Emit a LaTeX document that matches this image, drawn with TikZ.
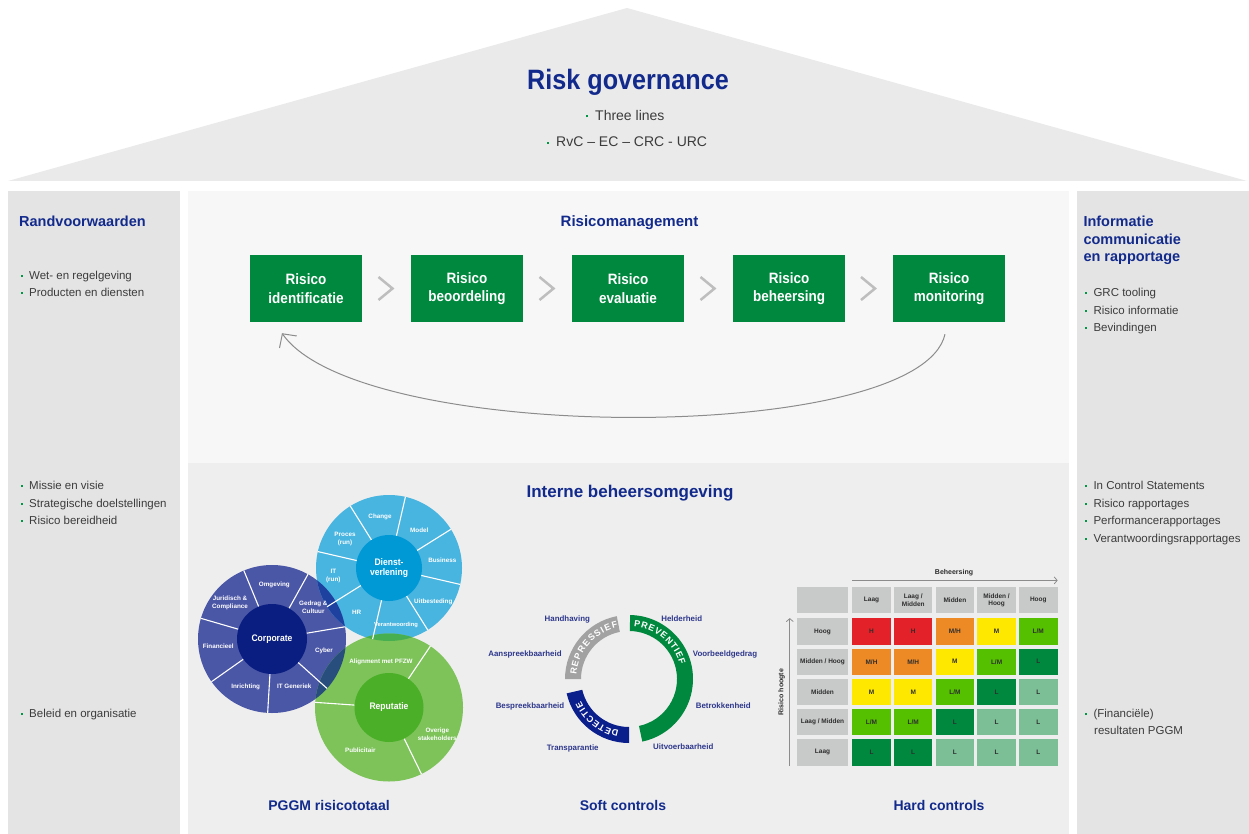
\documentclass[tikz,border=0pt]{standalone}
\usepackage{fontspec}
\setmainfont{Liberation Sans}
\newfontfamily\condfont[FakeStretch=0.9]{Liberation Sans}
\usetikzlibrary{arrows.meta,calc}
\definecolor{titleblue}{RGB}{18,42,140}
\definecolor{boxgreen}{RGB}{0,137,62}
\definecolor{bulgreen}{RGB}{0,150,70}
\definecolor{txtgrey}{RGB}{60,60,60}
\definecolor{roofgrey}{RGB}{234,234,234}
\definecolor{colgrey}{RGB}{228,228,228}
\definecolor{toppanel}{RGB}{247,247,247}
\definecolor{botpanel}{RGB}{238,238,238}
\definecolor{chevgrey}{RGB}{190,190,190}
\definecolor{arrowgrey}{RGB}{140,140,140}
\definecolor{corpout}{RGB}{74,86,166}
\definecolor{corpin}{RGB}{10,30,130}
\definecolor{dienout}{RGB}{72,180,224}
\definecolor{dienin}{RGB}{0,153,214}
\definecolor{repout}{RGB}{125,195,90}
\definecolor{repin}{RGB}{75,175,40}
\definecolor{cdov}{RGB}{30,65,160}
\definecolor{crov}{RGB}{40,78,125}
\definecolor{drov}{RGB}{72,175,80}
\definecolor{softblue}{RGB}{45,55,140}
\definecolor{softgrey}{RGB}{162,162,162}
\definecolor{softnavy}{RGB}{10,30,140}
\definecolor{cellgrey}{RGB}{200,201,201}
\definecolor{cred}{RGB}{227,33,40}
\definecolor{corng}{RGB}{238,138,38}
\definecolor{cyel}{RGB}{255,232,0}
\definecolor{clg}{RGB}{85,192,0}
\definecolor{cdg}{RGB}{0,137,62}
\definecolor{cpg}{RGB}{124,190,150}
\definecolor{celltext}{RGB}{45,45,45}
\newcommand{\gbul}{\textcolor{bulgreen}{\rule[2pt]{2pt}{2pt}}\hspace{6.3pt}}
\newcommand{\gbulr}{\textcolor{bulgreen}{\rule[3pt]{2pt}{2pt}}\hspace{7pt}}
\def\tcred{H}
\def\tcorng{M/H}
\def\tcyel{M}
\def\tclg{L/M}
\def\tcdg{L}
\def\tcpg{L}
\begin{document}
\begin{tikzpicture}[x=1pt,y=1pt,
  roofbul/.style={font=\fontsize{14}{14}\selectfont, text=txtgrey, inner sep=0pt, anchor=west, text height=10pt, text depth=0pt},
  bigtitle/.style={font={\condfont\fontsize{28}{30}\selectfont\bfseries}, text=titleblue, inner sep=0pt, text height=20pt, text depth=0pt},
  secttitle/.style={font={\fontsize{15}{15}\selectfont\bfseries}, text=titleblue, inner sep=0pt, text height=10.7pt, text depth=0pt},
  coltitle/.style={font={\fontsize{14.5}{14.5}\selectfont\bfseries}, text=titleblue, inner sep=0pt, anchor=west, text height=10.4pt, text depth=0pt},
  coltext/.style={font={\fontsize{11.5}{11.5}\selectfont}, text=txtgrey, inner sep=0pt, anchor=west, text height=8.2pt, text depth=0pt},
  bottitle/.style={font={\fontsize{14}{14}\selectfont\bfseries}, text=titleblue, inner sep=0pt, text height=10pt, text depth=0pt},
  stepbox/.style={fill=boxgreen, minimum width=112pt, minimum height=67pt, inner sep=0pt, text=white, font={\condfont\fontsize{15}{18.5}\selectfont\bfseries}, align=center},
  chev/.style={draw=chevgrey, line width=2.5pt},
  flowarrow/.style={draw=arrowgrey, line width=1pt, -{Straight Barb[length=10pt,width=21pt]}},
  seglbl/.style={text=white, font={\fontsize{6.3}{8.3}\selectfont\bfseries}, inner sep=0pt, align=center},
  centerlbl/.style={text=white, font={\condfont\fontsize{9.5}{10}\selectfont\bfseries}, inner sep=0pt, align=center},
  segline/.style={draw=white, line width=1.1pt},
  softlbl/.style={text=softblue, font={\fontsize{7.9}{7.9}\selectfont\bfseries}, inner sep=0pt, text height=5.7pt, text depth=0pt},
  arcletter/.style={text=white, font={\fontsize{9}{9}\selectfont\bfseries}, inner sep=0pt, text height=6.4pt, text depth=0pt},
  cell/.style={minimum width=38.4pt, minimum height=26.5pt, inner sep=0pt, font={\fontsize{6.5}{7.5}\selectfont\bfseries}, text=celltext, align=center},
  hdrcell/.style={cell, fill=cellgrey, minimum height=26pt},
  rowcell/.style={cell, fill=cellgrey, minimum width=50.4pt},
  axisarrow/.style={draw=arrowgrey, line width=0.8pt, -{Straight Barb[length=3pt,width=7pt]}},
  axislbl/.style={text=celltext, font={\fontsize{7}{7}\selectfont\bfseries}, inner sep=0pt}
]
\useasboundingbox (0,0) rectangle (1249,-834);
\fill[white] (0,0) rectangle (1249,-834);
% roof
\fill[roofgrey] (8,-181) -- (627,-8) -- (1247,-181) -- cycle;
\node[bigtitle] (rg) at (628,-79.5) {Risk governance};
\node[roofbul] (tl) at (586,-115.3) {\gbulr Three lines};
\node[roofbul] (rvc) at (547,-142) {\gbulr RvC -- EC -- CRC - URC};
% panels
\fill[colgrey] (8,-191) rectangle (180,-834);
\fill[colgrey] (1077,-191) rectangle (1249,-834);
\fill[toppanel] (188,-191) rectangle (1069,-462.5);
\fill[botpanel] (188,-462.5) rectangle (1069,-834);
% left column
\node[coltitle] (lt) at (19,-221) {Randvoorwaarden};
\node[coltext] (l1) at (20.7,-275) {\gbul Wet- en regelgeving};
\node[coltext] (l2) at (20.7,-292) {\gbul Producten en diensten};
\node[coltext] (l3) at (20.7,-485) {\gbul Missie en visie};
\node[coltext] (l4) at (20.7,-503) {\gbul Strategische doelstellingen};
\node[coltext] (l5) at (20.7,-520) {\gbul Risico bereidheid};
\node[coltext] (l6) at (20.7,-713) {\gbul Beleid en organisatie};
% right column
\node[coltitle] (rt1) at (1083.3,-221) {Informatie};
\node[coltitle] (rt2) at (1083.3,-239) {communicatie};
\node[coltitle] (rt3) at (1083.3,-256) {en rapportage};
\node[coltext] (r1) at (1085,-292) {\gbul GRC tooling};
\node[coltext] (r2) at (1085,-310) {\gbul Risico informatie};
\node[coltext] (r3) at (1085,-327) {\gbul Bevindingen};
\node[coltext] (r4) at (1085,-485) {\gbul In Control Statements};
\node[coltext] (r5) at (1085,-503) {\gbul Risico rapportages};
\node[coltext] (r6) at (1085,-520) {\gbul Performancerapportages};
\node[coltext] (r7) at (1085,-538) {\gbul Verantwoordingsrapportages};
\node[coltext] (r8) at (1085,-713) {\gbul (Financiële)};
\node[coltext] (r9) at (1094,-730.7) {resultaten PGGM};
% risicomanagement
\node[secttitle] (rmt) at (629.5,-221) {Risicomanagement};
\node[stepbox] (m1) at (306,-288.5) {Risico\\identificatie};
\node[stepbox] (m2) at (467,-288.5) {Risico\\beoordeling};
\node[stepbox] (m3) at (628,-288.5) {Risico\\evaluatie};
\node[stepbox] (m4) at (789,-288.5) {Risico\\beheersing};
\node[stepbox] (m5) at (949,-288.5) {Risico\\monitoring};
\foreach \a/\b in {m1/m2,m2/m3,m3/m4,m4/m5}
  \draw[chev] ($(\a.east)!0.5!(\b.west)+(-8,11.5)$) -- ++(14,-11.5) -- ++(-14,-11.5);
\draw[flowarrow] ([xshift=-4pt,yshift=-12pt]m5.south) .. controls +(-25,-111) and +(78,-112) .. ([xshift=-24pt,yshift=-11pt]m1.south);
% interne beheersomgeving
\node[secttitle, font={\fontsize{17}{17}\selectfont\bfseries}, text height=12.2pt] (ibt) at (630,-491) {Interne beheersomgeving};
% circles
\coordinate (corp) at (272,-639);
\coordinate (dien) at (389,-568);
\coordinate (rep) at (389,-707.5);
\fill[corpout] (corp) circle (74);
\fill[dienout] (dien) circle (73);
\fill[repout] (rep) circle (74);
\begin{scope}
  \clip (corp) circle (74);
  \fill[cdov] (dien) circle (73);
  \fill[crov] (rep) circle (74);
\end{scope}
\begin{scope}
  \clip (dien) circle (73);
  \fill[drov] (rep) circle (74);
\end{scope}
\foreach \a in {9.5,60.93,112.36,163.79,215.21,266.64,318.07}
  \draw[segline] ($(corp)+(\a:35)$) -- ($(corp)+(\a:74)$);
\foreach \a in {-13,32,77,122,167,212,257,302}
  \draw[segline] ($(dien)+(\a:33)$) -- ($(dien)+(\a:73)$);
\foreach \a in {56,176,296}
  \draw[segline] ($(rep)+(\a:34.5)$) -- ($(rep)+(\a:74)$);
\node[circle, fill=corpin, minimum size=70pt, inner sep=0pt, centerlbl] (corpc) at (corp) {Corporate};
\node[circle, fill=dienin, minimum size=66pt, inner sep=0pt, centerlbl] (dienc) at (dien) {Dienst-\\verlening};
\node[circle, fill=repin, minimum size=69pt, inner sep=0pt, centerlbl] (repc) at (rep) {Reputatie};
% corporate labels
\node[seglbl] (co1) at (274.3,-584.7) {Omgeving};
\node[seglbl] (co2) at (313.3,-607.3) {Gedrag \&\\Cultuur};
\node[seglbl] (co3) at (230,-602.7) {Juridisch \&\\Compliance};
\node[seglbl] (co4) at (218.3,-646.7) {Financieel};
\node[seglbl] (co5) at (245.7,-686.7) {Inrichting};
\node[seglbl] (co6) at (294.3,-686.7) {IT Generiek};
\node[seglbl] (co7) at (324,-650.7) {Cyber};
% dienstverlening labels
\node[seglbl] (di1) at (380,-517) {Change};
\node[seglbl] (di2) at (419.3,-530.3) {Model};
\node[seglbl] (di3) at (442.3,-560.3) {Business};
\node[seglbl] (di4) at (433.3,-602) {Uitbesteding};
\node[seglbl, font={\fontsize{5.8}{7}\selectfont\bfseries}] (di5) at (396,-624.7) {Verantwoording};
\node[seglbl] (di6) at (356.7,-612) {HR};
\node[seglbl] (di7) at (333.3,-576) {IT\\(run)};
\node[seglbl] (di8) at (345,-538.7) {Proces\\(run)};
% reputatie labels
\node[seglbl] (re1) at (381,-662) {Alignment met PFZW};
\node[seglbl] (re2) at (437.3,-734) {Overige\\stakeholders};
\node[seglbl] (re3) at (360.3,-750.7) {Publicitair};
% soft controls ring
\coordinate (sc) at (629,-679);
\fill[boxgreen] ($(sc)+(89:64)$) arc[start angle=89,end angle=-78,radius=64] -- ($(sc)+(-78:48)$) arc[start angle=-78,end angle=89,radius=48] -- cycle;
\fill[softgrey] ($(sc)+(101:64)$) arc[start angle=101,end angle=180,radius=64] -- ($(sc)+(180:48)$) arc[start angle=180,end angle=101,radius=48] -- cycle;
\fill[softnavy] ($(sc)+(193:64)$) arc[start angle=193,end angle=270,radius=64] -- ($(sc)+(270:48)$) arc[start angle=270,end angle=193,radius=48] -- cycle;
\foreach \ch/\ang [count=\i from 0] in {P/81.44,R/73.79,E/66.14,V/58.76,E/51.39,N/43.73,T/36.35,I/31.15,E/25.67,F/18.56}
  \node[arcletter, rotate={\ang-90}] (pv\i) at ($(sc)+(\ang:56)$) {\ch};
\foreach \ch/\ang [count=\i from 0] in {R/172.11,E/164.03,P/156.21,R/148.13,E/140.05,S/132.23,S/124.42,I/118.5,E/112.59,F/105.05}
  \node[arcletter, rotate={\ang-90}] (rp\i) at ($(sc)+(\ang:56)$) {\ch};
\foreach \ch/\ang [count=\i from 0] in {D/255.4,E/247.75,T/240.64,E/233.54,C/225.89,T/218.51,I/213.3,E/207.82}
  \node[arcletter, rotate={\ang-90}] (dt\i) at ($(sc)+(\ang:56)$) {\ch};
\node[softlbl] (s1) at (567.3,-619) {Handhaving};
\node[softlbl] (s2) at (681.7,-619) {Helderheid};
\node[softlbl] (s3) at (525,-653.3) {Aanspreekbaarheid};
\node[softlbl] (s4) at (725,-653.3) {Voorbeeldgedrag};
\node[softlbl] (s5) at (530,-706) {Bespreekbaarheid};
\node[softlbl] (s6) at (723.3,-706) {Betrokkenheid};
\node[softlbl] (s7) at (572.7,-747.3) {Transparantie};
\node[softlbl] (s8) at (683.3,-746.7) {Uitvoerbaarheid};
% hard controls matrix
\node[hdrcell, minimum width=50.4pt] (hc) at (822.5,-600.3) {};
\node[hdrcell] (h0) at (871.5,-600.3) {Laag};
\node[hdrcell] (h1) at (913.2,-600.3) {Laag /\\Midden};
\node[hdrcell] (h2) at (954.9,-600.3) {Midden};
\node[hdrcell] (h3) at (996.6,-600.3) {Midden /\\Hoog};
\node[hdrcell] (h4) at (1038.3,-600.3) {Hoog};
\node[rowcell] (w0) at (822.5,-631.55) {Hoog};
\node[rowcell] (w1) at (822.5,-661.75) {Midden / Hoog};
\node[rowcell] (w2) at (822.5,-691.95) {Midden};
\node[rowcell] (w3) at (822.5,-722.15) {Laag / Midden};
\node[rowcell] (w4) at (822.5,-752.35) {Laag};
\foreach \cols [count=\r from 0] in {{cred,cred,corng,cyel,clg},{corng,corng,cyel,clg,cdg},{cyel,cyel,clg,cdg,cpg},{clg,clg,cdg,cpg,cpg},{cdg,cdg,cpg,cpg,cpg}} {
  \foreach \cc [count=\c from 0] in \cols {
    \node[cell, fill=\cc] (c\r\c) at ({871.5+41.7*\c},{-(631.55+30.2*\r)}) {\csname t\cc\endcsname};
  }
}
\node[axislbl] (beh) at (954,-572.3) {Beheersing};
\draw[axisarrow] ([yshift=6.7pt]h0.north west) -- ([yshift=6.7pt]h4.north east);
\node[axislbl, rotate=90] (rh) at (781.5,-692) {Risico hoogte};
\draw[axisarrow] ([xshift=-7.3pt]w4.south west) -- ([xshift=-7.3pt]w0.north west);
% bottom titles
\node[bottitle] (bt1) at (329,-805) {PGGM risicototaal};
\node[bottitle] (bt2) at (623,-805) {Soft controls};
\node[bottitle] (bt3) at (939,-805) {Hard controls};
\end{tikzpicture}
\end{document}
